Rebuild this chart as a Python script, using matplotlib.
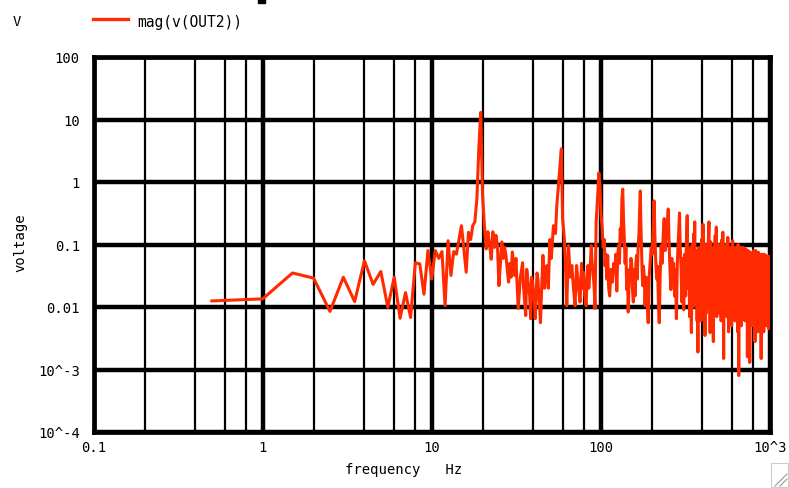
import matplotlib
matplotlib.use("Agg")
import matplotlib.pyplot as plt
from matplotlib.ticker import LogLocator, NullLocator, NullFormatter
from matplotlib.patches import Rectangle
from matplotlib.lines import Line2D

# keep every zig-zag of the dense spectrum
plt.rcParams['path.simplify'] = False

# mag(v(OUT2)), (frequency Hz, voltage)
low_band = [(0.5, 0.0125), (1.0, 0.0135), (1.5, 0.035), (2.0, 0.029), (2.5, 0.0085),
            (3.0, 0.030), (3.5, 0.0122), (4.0, 0.055), (4.5, 0.023), (5.0, 0.037),
            (5.5, 0.0099), (6.0, 0.030), (6.5, 0.0066), (7.0, 0.017), (7.5, 0.0068),
            (8.0, 0.051), (8.5, 0.049), (9.0, 0.016), (9.5, 0.08)]

fund_band = [(10.0, 0.028), (10.5, 0.08), (11.0, 0.06), (11.5, 0.077), (12.0, 0.0105),
             (12.5, 0.115), (13.0, 0.032), (13.5, 0.077), (14.0, 0.07), (14.5, 0.12),
             (15.0, 0.2), (15.5, 0.085), (16.0, 0.036), (16.5, 0.157), (17.0, 0.12),
             (17.5, 0.2), (18.0, 0.23), (18.5, 0.53), (19.0, 3.4), (19.5, 13.0),
             (20.0, 0.6), (20.5, 0.2), (21.0, 0.085), (21.5, 0.16), (22.0, 0.1),
             (22.5, 0.058), (23.0, 0.16), (23.5, 0.09), (24.0, 0.14), (24.5, 0.096),
             (25.0, 0.022), (25.5, 0.05), (26.0, 0.11), (26.5, 0.06), (27.0, 0.09),
             (27.5, 0.067), (28.0, 0.04), (28.5, 0.025), (29.0, 0.05), (29.5, 0.03),
             (30.0, 0.076), (30.5, 0.05), (31.0, 0.032), (31.5, 0.06), (32.5, 0.0095)]

mid_band = [(33.5, 0.03), (34.5, 0.051), (35.0, 0.02), (36.0, 0.0073), (36.5, 0.04),
            (37.0, 0.028), (38.0, 0.015), (38.5, 0.0065), (39.0, 0.03), (39.5, 0.025),
            (40.5, 0.012), (41.0, 0.0065), (42.0, 0.035), (42.5, 0.028), (43.5, 0.01),
            (44.0, 0.0056), (45.0, 0.03), (45.5, 0.067), (46.5, 0.02), (47.0, 0.03),
            (48.0, 0.046), (49.0, 0.02), (50.0, 0.12), (51.0, 0.06), (52.5, 0.2),
            (54.0, 0.15), (55.0, 0.42), (57.0, 1.43), (58.5, 3.4), (59.5, 0.26),
            (61.0, 0.12), (62.0, 0.04), (63.0, 0.0105), (64.5, 0.096), (66.0, 0.03),
            (67.5, 0.046), (69.0, 0.02), (70.5, 0.0105), (72.0, 0.046), (73.0, 0.03),
            (74.0, 0.02), (75.5, 0.012), (77.0, 0.05), (78.0, 0.02), (79.0, 0.036),
            (80.5, 0.015), (82.0, 0.0105), (83.0, 0.03), (84.0, 0.046), (85.0, 0.02),
            (86.0, 0.03), (88.0, 0.096), (89.0, 0.05), (90.0, 0.04), (91.5, 0.02),
            (92.5, 0.0095), (94.0, 0.23), (96.0, 0.6), (97.5, 1.4)]

harm_band = [(99.0, 0.87), (100.5, 0.3), (102.0, 0.18), (103.5, 0.09), (105.0, 0.12),
             (106.0, 0.046), (107.5, 0.07), (108.5, 0.028), (110.0, 0.067), (111.5, 0.02),
             (113.0, 0.015), (115.0, 0.04), (117.5, 0.025), (119.5, 0.05), (121.5, 0.036),
             (123.0, 0.07), (124.5, 0.018), (126.0, 0.06), (127.5, 0.096), (129.0, 0.05),
             (130.5, 0.18), (132.0, 0.11), (133.5, 0.53), (135.0, 0.77), (136.5, 0.25),
             (138.0, 0.12), (139.5, 0.05), (141.0, 0.09), (142.5, 0.019), (144.0, 0.04),
             (145.5, 0.0083), (147.5, 0.03), (149.0, 0.028), (151.0, 0.06), (152.5, 0.05),
             (154.0, 0.02), (156.0, 0.012), (158.0, 0.04), (159.5, 0.015), (161.5, 0.05),
             (163.0, 0.067), (164.5, 0.028), (166.5, 0.09), (168.5, 0.15), (170.0, 0.35),
             (171.5, 0.72), (173.0, 0.2), (175.0, 0.06), (177.0, 0.022), (179.0, 0.045),
             (181.0, 0.03), (183.0, 0.0105), (185.5, 0.03), (188.0, 0.015), (191.0, 0.0056),
             (193.5, 0.03), (196.0, 0.05), (199.0, 0.09), (202.0, 0.07), (204.5, 0.2),
             (207.0, 0.5), (209.5, 0.12), (212.0, 0.05), (214.5, 0.028), (217.0, 0.045),
             (219.5, 0.012), (222.0, 0.0056), (225.0, 0.035), (228.0, 0.096), (231.0, 0.05),
             (234.0, 0.13), (237.5, 0.26), (240.5, 0.08), (244.0, 0.15), (247.5, 0.2),
             (251.0, 0.37), (254.0, 0.1), (257.0, 0.04), (260.0, 0.019), (263.5, 0.06),
             (267.0, 0.03), (270.0, 0.05), (273.5, 0.015), (277.0, 0.04), (280.5, 0.0065),
             (284.0, 0.05), (287.0, 0.1), (290.0, 0.18), (292.5, 0.32), (295.5, 0.09),
             (299.0, 0.04)]

dense_a = [(302, 0.012), (304, 0.04), (306, 0.06), (308, 0.02), (310, 0.009), (312, 0.05),
           (314, 0.07), (316, 0.03), (318, 0.015), (320, 0.06), (322, 0.12), (325, 0.29),
           (328, 0.02), (330, 0.05), (332, 0.08), (334, 0.02), (336, 0.007), (338, 0.05),
           (340, 0.09), (342, 0.02), (344, 0.0039), (346, 0.04), (348, 0.1), (350, 0.03),
           (352, 0.01), (354, 0.06), (356, 0.15), (358, 0.05), (360, 0.23), (362, 0.03),
           (364, 0.012), (366, 0.05), (368, 0.08), (370, 0.02), (372, 0.006), (374, 0.03),
           (376, 0.0019), (378, 0.05), (380, 0.09), (382, 0.02), (384, 0.01), (386, 0.05),
           (388, 0.07), (390, 0.02), (392, 0.006), (394, 0.05), (396, 0.12), (398, 0.03),
           (400, 0.015), (403, 0.21), (406, 0.009), (408, 0.05), (410, 0.08), (412, 0.02),
           (414, 0.0035), (416, 0.05), (418, 0.1), (420, 0.03), (422, 0.008), (424, 0.05),
           (426, 0.07), (428, 0.02), (430, 0.012), (432, 0.06), (434, 0.13), (437, 0.23),
           (440, 0.01), (442, 0.05), (444, 0.0039), (446, 0.06), (448, 0.11), (450, 0.02),
           (452, 0.009), (454, 0.05), (456, 0.08), (458, 0.02), (460, 0.006), (462, 0.04),
           (464, 0.0028), (466, 0.05), (468, 0.09), (470, 0.03), (472, 0.01), (474, 0.06),
           (476, 0.14), (478, 0.03), (480, 0.012), (483, 0.19), (486, 0.007), (488, 0.05),
           (490, 0.08), (492, 0.02), (494, 0.01), (496, 0.06), (498, 0.1)]

dense_b = [(501, 0.02), (504, 0.008), (507, 0.05), (510, 0.09), (513, 0.02), (516, 0.006),
           (519, 0.05), (522, 0.12), (525, 0.04), (528, 0.157), (531, 0.02), (534, 0.0015),
           (537, 0.04), (540, 0.08), (543, 0.02), (546, 0.009), (549, 0.05), (552, 0.1),
           (555, 0.02), (558, 0.007), (562, 0.06), (565, 0.13), (568, 0.02), (571, 0.004),
           (574, 0.05), (577, 0.09), (580, 0.03), (583, 0.01), (586, 0.05), (589, 0.07),
           (592, 0.02), (595, 0.005), (598, 0.05), (600, 0.09), (604, 0.115), (607, 0.03),
           (610, 0.008), (613, 0.04), (616, 0.08), (619, 0.02), (622, 0.006), (625, 0.05),
           (628, 0.09), (631, 0.02), (634, 0.01), (637, 0.05), (640, 0.07), (643, 0.02),
           (646, 0.004), (648, 0.05), (650, 0.1), (653, 0.02), (656, 0.0008), (659, 0.04),
           (662, 0.08), (665, 0.03), (668, 0.009), (671, 0.05), (674, 0.09), (677, 0.02),
           (680, 0.005), (683, 0.05), (686, 0.08), (689, 0.03), (692, 0.01), (695, 0.05),
           (698, 0.09)]

dense_c = [(702, 0.03), (706, 0.07), (710, 0.02), (714, 0.006), (718, 0.05), (723, 0.085),
           (726, 0.02), (730, 0.009), (734, 0.04), (738, 0.0016), (742, 0.04), (746, 0.08),
           (750, 0.03), (754, 0.01), (758, 0.05), (762, 0.0013), (766, 0.04), (770, 0.075),
           (774, 0.02), (778, 0.008), (782, 0.05), (786, 0.07), (790, 0.02), (794, 0.005),
           (798, 0.04), (802, 0.08), (806, 0.03), (810, 0.01), (814, 0.05), (818, 0.0028),
           (822, 0.04), (827, 0.08), (830, 0.02), (834, 0.008), (838, 0.05), (842, 0.07),
           (846, 0.02), (850, 0.004), (854, 0.04), (858, 0.075), (862, 0.03), (866, 0.009),
           (870, 0.05), (874, 0.07), (878, 0.02), (882, 0.006), (886, 0.04), (890, 0.0015),
           (894, 0.04), (898, 0.07), (902, 0.02), (906, 0.008), (910, 0.05), (914, 0.065),
           (918, 0.02), (922, 0.004), (926, 0.04), (930, 0.07), (934, 0.03), (938, 0.009),
           (942, 0.04), (946, 0.065), (950, 0.067), (953, 0.02), (956, 0.005), (960, 0.04),
           (964, 0.065), (968, 0.02), (972, 0.008), (976, 0.04), (980, 0.06), (984, 0.02),
           (988, 0.0045), (992, 0.04), (996, 0.065), (1000, 0.03)]

x_ticks = [0.1, 1, 10, 100, 1000]
x_labels = ['0.1', '1', '10', '100', '10^3']
y_ticks = [1e-4, 1e-3, 1e-2, 1e-1, 1, 10, 100]
y_labels = ['10^-4', '10^-3', '0.01', '0.1', '1', '10', '100']

RED = '#ff2a00'
FONT = 'DejaVu Sans Mono'
FS = 10

points = low_band + fund_band + mid_band + harm_band + dense_a + dense_b + dense_c
freq = [p[0] for p in points]
mag = [p[1] for p in points]

W, H = 789, 489
fig = plt.figure(figsize=(W / 100, H / 100), dpi=100)
ax = fig.add_axes([93.7 / W, 1 - 433 / H, 676 / W, 375 / H])

ax.plot(freq, mag, color=RED, lw=2.2, zorder=3)

ax.set_xscale('log')
ax.set_yscale('log')
ax.set_xlim(0.1, 1000)
ax.set_ylim(1e-4, 100)

ax.set_xticks(x_ticks, x_labels)
ax.set_yticks(y_ticks, y_labels)
ax.xaxis.set_minor_locator(LogLocator(base=10, subs=(2, 4, 6, 8)))
ax.xaxis.set_minor_formatter(NullFormatter())
ax.yaxis.set_minor_locator(NullLocator())

ax.grid(which='major', color='black', lw=3.2)
ax.grid(which='minor', axis='x', color='black', lw=1.6)
for s in ax.spines.values():
    s.set_linewidth(3.4)
    s.set_color('black')

ax.tick_params(which='both', length=0)
ax.tick_params(axis='x', pad=6)
ax.tick_params(axis='y', pad=10)
for lab in ax.get_xticklabels() + ax.get_yticklabels():
    lab.set_fontfamily(FONT)
    lab.set_fontsize(FS)

fig.text(20 / W, 1 - 243 / H, 'voltage', rotation=90, ha='center', va='center',
         family=FONT, fontsize=FS)
fig.text(404 / W, 1 - 470 / H, 'frequency   Hz', ha='center', va='center',
         family=FONT, fontsize=FS)

# legend strip on top
fig.text(17 / W, 1 - 22 / H, 'V', ha='center', va='center', family=FONT, fontsize=FS)
fig.add_artist(Line2D([93 / W, 128 / W], [1 - 20 / H, 1 - 20 / H], color=RED, lw=2.4))
fig.text(137 / W, 1 - 22 / H, 'mag(v(OUT2))', ha='left', va='center', family=FONT,
         fontsize=10.5)
fig.patches.append(Rectangle((258 / W, 1 - 4 / H), 7 / W, 4 / H, transform=fig.transFigure,
                             color='black', figure=fig))

# window resize grip
fig.patches.append(Rectangle((771 / W, 1 - 488 / H), 17 / W, 24 / H, transform=fig.transFigure,
                             fill=False, ec='#cccccc', lw=0.8, figure=fig))
for k in (0, 5):
    fig.add_artist(Line2D([(775 + k) / W, (787) / W], [1 - 487 / H, 1 - (475 + k) / H],
                          color='#999999', lw=0.8))

fig.savefig('out.png', dpi=100, facecolor='white')
